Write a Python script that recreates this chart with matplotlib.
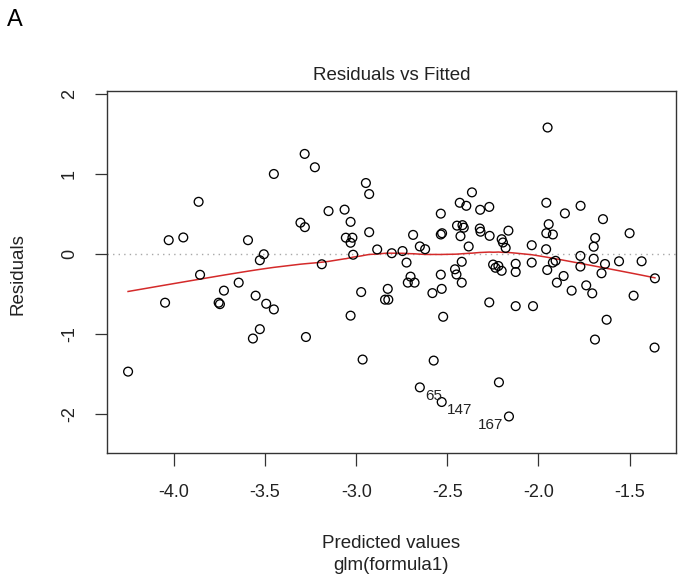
import numpy as np
import matplotlib
matplotlib.use("Agg")
import matplotlib.pyplot as plt

plt.rcParams['font.family'] = ['Liberation Sans', 'DejaVu Sans']

# Predicted (fitted) values and residuals
fitted = [
    -4.252, -4.049, -4.029, -3.949, -3.865, -3.857, -3.755, -3.748, -3.726, -3.645,
    -3.594, -3.552, -3.567, -3.529, -3.529, -3.507, -3.494, -3.452, -3.452, -3.306,
    -3.282, -3.283, -3.276, -3.227, -3.189, -3.152, -3.064, -3.057, -3.021, -3.031,
    -3.031, -3.017, -3.031, -2.973, -2.965, -2.947, -2.929, -2.929, -2.885, -2.827,
    -2.842, -2.824, -2.805, -2.746, -2.724, -2.702, -2.717, -2.680, -2.688, -2.651,
    -2.622, -2.651, -2.582, -2.575, -2.536, -2.536, -2.529, -2.531, -2.536, -2.523,
    -2.531, -2.458, -2.450, -2.447, -2.417, -2.410, -2.432, -2.396, -2.428, -2.421,
    -2.421, -2.365, -2.383, -2.320, -2.322, -2.318, -2.270, -2.268, -2.270, -2.249,
    -2.236, -2.220, -2.202, -2.202, -2.195, -2.180, -2.165, -2.217, -2.162, -2.125,
    -2.125, -2.125, -2.037, -2.037, -2.030, -1.957, -1.950, -1.944, -1.957, -1.921,
    -1.958, -1.921, -1.906, -1.952, -1.862, -1.899, -1.855, -1.818, -1.769, -1.770,
    -1.770, -1.738, -1.705, -1.690, -1.697, -1.689, -1.697, -1.646, -1.635, -1.654,
    -1.626, -1.558, -1.500, -1.478, -1.434, -1.361, -1.363,
]
residuals = [
    -1.473, -0.611, 0.171, 0.205, 0.651, -0.262, -0.611, -0.629, -0.460, -0.360,
    0.171, -0.523, -1.059, -0.942, -0.080, -0.005, -0.624, -0.695, 0.999, 0.390,
    0.334, 1.250, -1.040, 1.083, -0.130, 0.535, 0.553, 0.202, 0.202, 0.400,
    0.139, -0.011, -0.773, -0.478, -1.322, 0.886, 0.748, 0.271, 0.055, -0.438,
    -0.573, -0.573, 0.008, 0.035, -0.109, -0.285, -0.360, -0.360, 0.237, 0.093,
    0.058, -1.670, -0.491, -1.335, 0.503, 0.242, 0.258, -0.438, -0.260, -0.787,
    -1.853, -0.193, -0.258, 0.353, 0.359, 0.327, 0.639, 0.601, 0.221, -0.099,
    -0.360, 0.769, 0.092, 0.551, 0.317, 0.277, 0.587, 0.225, -0.607, -0.134,
    -0.174, -0.152, -0.212, 0.183, 0.142, 0.074, 0.290, -1.607, -2.034, -0.124,
    -0.227, -0.654, 0.108, -0.109, -0.654, 0.639, 1.580, 0.371, 0.258, 0.242,
    0.058, -0.109, -0.087, -0.202, -0.277, -0.360, 0.506, -0.460, 0.601, -0.026,
    -0.159, -0.394, -0.494, -1.072, 0.089, 0.199, -0.061, 0.434, -0.127, -0.243,
    -0.824, -0.093, 0.258, -0.523, -0.093, -0.306, -1.172,
]
# labelled observations: (index into arrays, label, side)
id_index = [51, 60, 88]
id_labels = ["65", "147", "167"]
id_side = ["right", "right", "left"]

x_ticks = [-4.0, -3.5, -3.0, -2.5, -2.0, -1.5]
x_ticklabels = ["-4.0", "-3.5", "-3.0", "-2.5", "-2.0", "-1.5"]
y_ticks = [-2, -1, 0, 1, 2]
y_ticklabels = ["-2", "-1", "0", "1", "2"]


def lowess(x, y, f=2/3, iters=3):
    order = np.argsort(x, kind="mergesort")
    x = np.asarray(x, float)[order]
    y = np.asarray(y, float)[order]
    n = len(x)
    ns = max(min(int(f * n + 1e-7), n), 2)
    rw = np.ones(n)
    ys = np.zeros(n)
    for it in range(iters + 1):
        nleft, nright = 0, ns - 1
        for i in range(n):
            while nright < n - 1 and x[i] - x[nleft] > x[nright + 1] - x[i]:
                nleft += 1
                nright += 1
            h = max(x[i] - x[nleft], x[nright] - x[i])
            h9, h1 = 0.999 * h, 0.001 * h
            idx = np.arange(nleft, n)
            r = np.abs(x[idx] - x[i])
            w = np.zeros(len(idx))
            m_in = r <= h9
            w[m_in] = (1 - (r[m_in] / h) ** 3) ** 3 if h > 0 else 1.0
            w[r <= h1] = 1.0
            keep = idx <= nright
            keep |= (r <= h9)
            w = np.where(keep, w, 0.0) * rw[idx]
            if w.sum() <= 0:
                ys[i] = y[i]
                continue
            w = w / w.sum()
            xm = np.sum(w * x[idx])
            c = np.sum(w * (x[idx] - xm) ** 2)
            if h > 0 and np.sqrt(c) > 0.001 * (x[-1] - x[0]):
                b = (x[i] - xm) / c
                ww = w * (b * (x[idx] - xm) + 1.0)
            else:
                ww = w
            ys[i] = np.sum(ww * y[idx])
        if it == iters:
            break
        res = y - ys
        cmad = 6 * np.median(np.abs(res))
        if cmad < 1e-7 * np.mean(np.abs(res)):
            break
        c9, c1 = 0.999 * cmad, 0.001 * cmad
        ar = np.abs(res)
        rw = np.where(ar <= c1, 1.0, np.where(ar <= c9, (1 - (ar / cmad) ** 2) ** 2, 0.0))
    return x, ys


fx = np.array(fitted)
ry = np.array(residuals)

fig = plt.figure(figsize=(6.78, 5.88), dpi=100)
ax = fig.add_axes([107 / 678, 1 - 453 / 588, 569 / 678, 362 / 588])

# R-style limits
xr = fx.max() - fx.min()
ax.set_xlim(fx.min() - 0.04 * xr, fx.max() + 0.04 * xr)
lo, hi = ry.min(), ry.max()
rr = hi - lo
lo, hi = lo - 0.08 * rr, hi + 0.08 * rr
rr = hi - lo
ax.set_ylim(lo - 0.04 * rr, hi + 0.04 * rr)

ax.axhline(0, color="#a8a8a8", lw=1.0, linestyle=(0, (1, 3)), zorder=1)
ax.scatter(fx, ry, s=40, facecolors="none", edgecolors="black", linewidths=0.95, zorder=3)

sx, sy = lowess(fx, ry)
ax.plot(sx, sy, color="#d42a2a", lw=1.1, zorder=2)

for i, lab, side in zip(id_index, id_labels, id_side):
    if side == "right":
        ax.annotate(lab, (fx[i], ry[i]), xytext=(4, -6), textcoords="offset points",
                    ha="left", va="center", fontsize=11, color="#222222")
    else:
        ax.annotate(lab, (fx[i], ry[i]), xytext=(-4, -6), textcoords="offset points",
                    ha="right", va="center", fontsize=11, color="#222222")

ax.set_xticks(x_ticks)
ax.set_xticklabels(x_ticklabels)
ax.set_yticks(y_ticks)
ax.set_yticklabels(y_ticklabels, rotation=90, va="center")
ax.tick_params(direction="out", length=9, width=0.9, colors="#333333", labelsize=13,
               labelcolor="#222222")
ax.tick_params(axis="x", pad=13)
ax.tick_params(axis="y", pad=12)
for s in ax.spines.values():
    s.set_linewidth(1.0)
    s.set_color("#333333")

ax.set_title("Residuals vs Fitted", fontsize=13.5, color="#222222", pad=8)
fig.text(391 / 678, 1 - 543 / 588, "Predicted values", ha="center", va="center",
         fontsize=13.5, color="#222222")
fig.text(391 / 678, 1 - 565 / 588, "glm(formula1)", ha="center", va="center",
         fontsize=13.5, color="#222222")
fig.text(18 / 678, 1 - 274 / 588, "Residuals", ha="center", va="center", rotation=90,
         fontsize=13.5, color="#222222")
fig.text(7 / 678, 1 - 20 / 588, "A", ha="left", va="center", fontsize=17, color="black")

fig.savefig("out.png", dpi=100)
